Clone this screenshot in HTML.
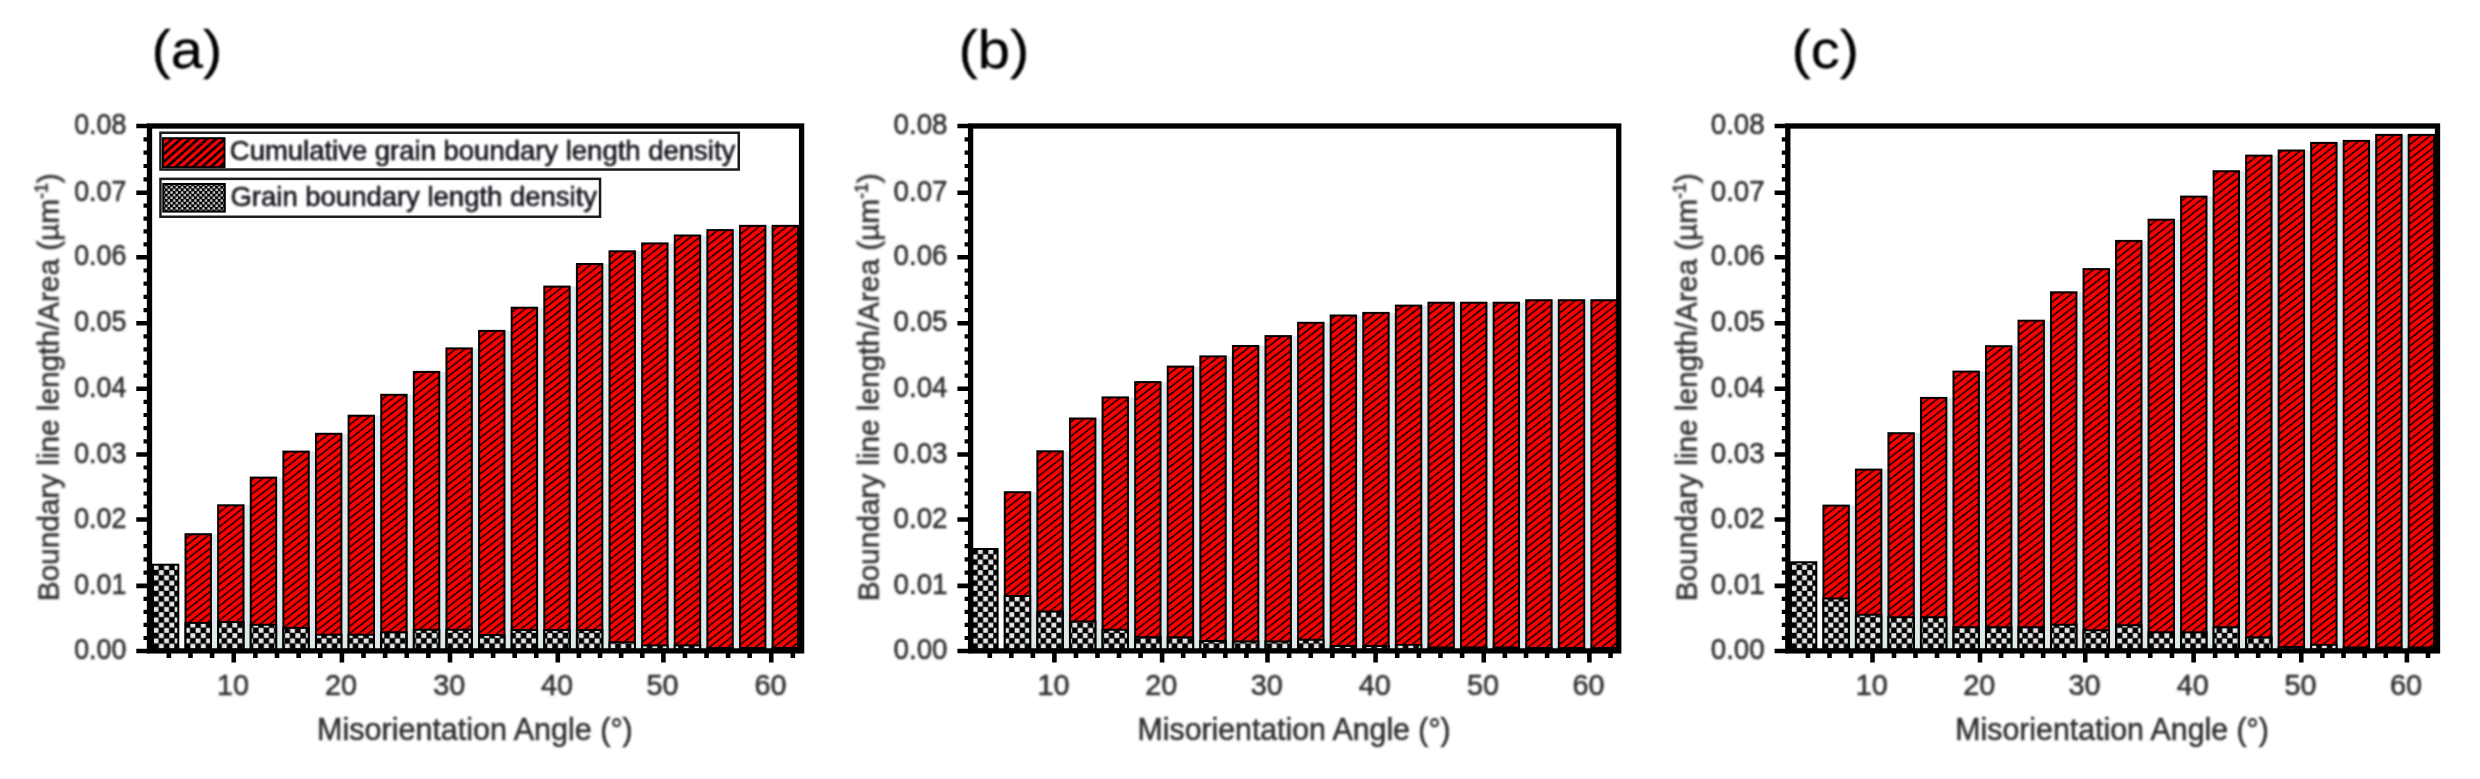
<!DOCTYPE html>
<html lang="en"><head><meta charset="utf-8"><title>Grain boundary length density</title>
<style>html,body{margin:0;padding:0;background:#fff}body{width:2480px;height:779px;overflow:hidden}svg{display:block}text{font-family:"Liberation Sans",Arial,sans-serif}</style>
</head><body>
<svg width="2480" height="779" viewBox="0 0 2480 779">
<defs>
<pattern id="hr" patternUnits="userSpaceOnUse" width="9.2" height="7.2">
<rect width="9.2" height="7.2" fill="#ff0000"/>
<path d="M-4.6 3.6 L4.6 -3.6 M0 7.2 L9.2 0 M4.6 10.8 L13.8 3.6" stroke="#000" stroke-width="1.5" stroke-linecap="square"/>
</pattern>
<pattern id="hg" patternUnits="userSpaceOnUse" width="10.5" height="10.5" x="1.2" y="3.0">
<rect width="10.5" height="10.5" fill="#000"/>
<rect x="0.225" y="0.225" width="4.8" height="4.8" fill="#e6e6e6"/><rect x="5.475" y="5.475" width="4.8" height="4.8" fill="#e6e6e6"/>
</pattern>
<pattern id="hl" patternUnits="userSpaceOnUse" width="8.8" height="7.8" x="2" y="1"><rect width="8.8" height="7.8" fill="#ff0000"/><path d="M-4.4 3.9L4.4 -3.9M0 7.8L8.8 0M4.4 11.7L13.2 3.9" stroke="#000" stroke-width="2.5" stroke-linecap="square"/></pattern>
<pattern id="hk" patternUnits="userSpaceOnUse" width="5.3" height="5.3" x="0.5" y="0.3"><rect width="5.3" height="5.3" fill="#000"/><rect x="0.3" y="0.3" width="2.3" height="2.3" fill="#d8d8d8"/><rect x="2.95" y="2.95" width="2.3" height="2.3" fill="#d8d8d8"/></pattern>
<filter id="bl" x="-5%" y="-20%" width="110%" height="140%"><feGaussianBlur stdDeviation="0.95"/></filter><filter id="b2"><feGaussianBlur stdDeviation="0.5"/></filter>
</defs>
<rect width="2480" height="779" fill="#fff"/>
<g>
<g>
<rect x="211.42" y="534.20" width="6.22" height="116.70" fill="#dfe8ea"/>
<rect x="244.03" y="505.30" width="6.22" height="145.60" fill="#dfe8ea"/>
<rect x="276.65" y="477.60" width="6.22" height="173.30" fill="#dfe8ea"/>
<rect x="309.26" y="451.60" width="6.22" height="199.30" fill="#dfe8ea"/>
<rect x="341.88" y="433.80" width="6.22" height="217.10" fill="#dfe8ea"/>
<rect x="374.49" y="415.70" width="6.22" height="235.20" fill="#dfe8ea"/>
<rect x="407.11" y="394.80" width="6.22" height="256.10" fill="#dfe8ea"/>
<rect x="439.73" y="371.90" width="6.22" height="279.00" fill="#dfe8ea"/>
<rect x="472.34" y="348.40" width="6.22" height="302.50" fill="#dfe8ea"/>
<rect x="504.96" y="330.90" width="6.22" height="320.00" fill="#dfe8ea"/>
<rect x="537.57" y="307.70" width="6.22" height="343.20" fill="#dfe8ea"/>
<rect x="570.19" y="286.60" width="6.22" height="364.30" fill="#dfe8ea"/>
<rect x="602.81" y="264.00" width="6.22" height="386.90" fill="#dfe8ea"/>
<rect x="635.42" y="251.30" width="6.22" height="399.60" fill="#dfe8ea"/>
<rect x="668.04" y="243.40" width="6.22" height="407.50" fill="#dfe8ea"/>
<rect x="700.65" y="235.50" width="6.22" height="415.40" fill="#dfe8ea"/>
<rect x="733.27" y="230.10" width="6.22" height="420.80" fill="#dfe8ea"/>
<rect x="765.88" y="225.85" width="6.22" height="425.05" fill="#dfe8ea"/>
<rect x="152.90" y="564.70" width="25.40" height="86.20" fill="url(#hg)" stroke="#000" stroke-width="2" filter="url(#b2)"/>
<rect x="185.52" y="534.20" width="25.40" height="116.70" fill="url(#hr)" stroke="#000" stroke-width="2"/>
<rect x="185.52" y="622.90" width="25.40" height="28.00" fill="url(#hg)" stroke="#000" stroke-width="2" filter="url(#b2)"/>
<rect x="218.13" y="505.30" width="25.40" height="145.60" fill="url(#hr)" stroke="#000" stroke-width="2"/>
<rect x="218.13" y="622.00" width="25.40" height="28.90" fill="url(#hg)" stroke="#000" stroke-width="2" filter="url(#b2)"/>
<rect x="250.75" y="477.60" width="25.40" height="173.30" fill="url(#hr)" stroke="#000" stroke-width="2"/>
<rect x="250.75" y="624.75" width="25.40" height="26.15" fill="url(#hg)" stroke="#000" stroke-width="2" filter="url(#b2)"/>
<rect x="283.36" y="451.60" width="25.40" height="199.30" fill="url(#hr)" stroke="#000" stroke-width="2"/>
<rect x="283.36" y="627.90" width="25.40" height="23.00" fill="url(#hg)" stroke="#000" stroke-width="2" filter="url(#b2)"/>
<rect x="315.98" y="433.80" width="25.40" height="217.10" fill="url(#hr)" stroke="#000" stroke-width="2"/>
<rect x="315.98" y="634.75" width="25.40" height="16.15" fill="url(#hg)" stroke="#000" stroke-width="2" filter="url(#b2)"/>
<rect x="348.59" y="415.70" width="25.40" height="235.20" fill="url(#hr)" stroke="#000" stroke-width="2"/>
<rect x="348.59" y="634.75" width="25.40" height="16.15" fill="url(#hg)" stroke="#000" stroke-width="2" filter="url(#b2)"/>
<rect x="381.21" y="394.80" width="25.40" height="256.10" fill="url(#hr)" stroke="#000" stroke-width="2"/>
<rect x="381.21" y="632.25" width="25.40" height="18.65" fill="url(#hg)" stroke="#000" stroke-width="2" filter="url(#b2)"/>
<rect x="413.83" y="371.90" width="25.40" height="279.00" fill="url(#hr)" stroke="#000" stroke-width="2"/>
<rect x="413.83" y="629.75" width="25.40" height="21.15" fill="url(#hg)" stroke="#000" stroke-width="2" filter="url(#b2)"/>
<rect x="446.44" y="348.40" width="25.40" height="302.50" fill="url(#hr)" stroke="#000" stroke-width="2"/>
<rect x="446.44" y="629.75" width="25.40" height="21.15" fill="url(#hg)" stroke="#000" stroke-width="2" filter="url(#b2)"/>
<rect x="479.06" y="330.90" width="25.40" height="320.00" fill="url(#hr)" stroke="#000" stroke-width="2"/>
<rect x="479.06" y="635.00" width="25.40" height="15.90" fill="url(#hg)" stroke="#000" stroke-width="2" filter="url(#b2)"/>
<rect x="511.67" y="307.70" width="25.40" height="343.20" fill="url(#hr)" stroke="#000" stroke-width="2"/>
<rect x="511.67" y="630.00" width="25.40" height="20.90" fill="url(#hg)" stroke="#000" stroke-width="2" filter="url(#b2)"/>
<rect x="544.29" y="286.60" width="25.40" height="364.30" fill="url(#hr)" stroke="#000" stroke-width="2"/>
<rect x="544.29" y="630.00" width="25.40" height="20.90" fill="url(#hg)" stroke="#000" stroke-width="2" filter="url(#b2)"/>
<rect x="576.91" y="264.00" width="25.40" height="386.90" fill="url(#hr)" stroke="#000" stroke-width="2"/>
<rect x="576.91" y="630.00" width="25.40" height="20.90" fill="url(#hg)" stroke="#000" stroke-width="2" filter="url(#b2)"/>
<rect x="609.52" y="251.30" width="25.40" height="399.60" fill="url(#hr)" stroke="#000" stroke-width="2"/>
<rect x="609.52" y="642.25" width="25.40" height="8.65" fill="url(#hg)" stroke="#000" stroke-width="2" filter="url(#b2)"/>
<rect x="642.14" y="243.40" width="25.40" height="407.50" fill="url(#hr)" stroke="#000" stroke-width="2"/>
<rect x="642.14" y="645.40" width="25.40" height="5.50" fill="url(#hg)" stroke="#000" stroke-width="2" filter="url(#b2)"/>
<rect x="674.75" y="235.50" width="25.40" height="415.40" fill="url(#hr)" stroke="#000" stroke-width="2"/>
<rect x="674.75" y="645.40" width="25.40" height="5.50" fill="url(#hg)" stroke="#000" stroke-width="2" filter="url(#b2)"/>
<rect x="707.37" y="230.10" width="25.40" height="420.80" fill="url(#hr)" stroke="#000" stroke-width="2"/>
<rect x="706.37" y="647.00" width="27.40" height="3.90" fill="#000"/>
<rect x="739.98" y="225.85" width="25.40" height="425.05" fill="url(#hr)" stroke="#000" stroke-width="2"/>
<rect x="738.98" y="647.00" width="27.40" height="3.90" fill="#000"/>
<rect x="772.60" y="225.85" width="25.40" height="425.05" fill="url(#hr)" stroke="#000" stroke-width="2"/>
<rect x="771.60" y="647.00" width="27.40" height="3.90" fill="#000"/>
<rect x="149.5" y="126" width="652.1" height="524.9" fill="none" stroke="#000" stroke-width="5.3"/>
<path d="M136.3 651.00H149.5M136.3 585.90H149.5M136.3 519.50H149.5M136.3 454.50H149.5M136.3 388.70H149.5M136.3 323.30H149.5M136.3 257.30H149.5M136.3 192.70H149.5M136.3 126.00H149.5" stroke="#000" stroke-width="4.6" fill="none"/>
<path d="M143.5 637.98H149.5M143.5 624.96H149.5M143.5 611.94H149.5M143.5 598.92H149.5M143.5 572.62H149.5M143.5 559.34H149.5M143.5 546.06H149.5M143.5 532.78H149.5M143.5 506.50H149.5M143.5 493.50H149.5M143.5 480.50H149.5M143.5 467.50H149.5M143.5 441.34H149.5M143.5 428.18H149.5M143.5 415.02H149.5M143.5 401.86H149.5M143.5 375.62H149.5M143.5 362.54H149.5M143.5 349.46H149.5M143.5 336.38H149.5M143.5 310.10H149.5M143.5 296.90H149.5M143.5 283.70H149.5M143.5 270.50H149.5M143.5 244.38H149.5M143.5 231.46H149.5M143.5 218.54H149.5M143.5 205.62H149.5M143.5 179.36H149.5M143.5 166.02H149.5M143.5 152.68H149.5M143.5 139.34H149.5" stroke="#000" stroke-width="4.2" fill="none"/>
<path d="M168.86 650.9V658M190.49 650.9V658M212.12 650.9V658M233.75 650.9V662.6M255.38 650.9V658M277.01 650.9V658M298.64 650.9V658M320.27 650.9V658M341.90 650.9V662.6M363.52 650.9V658M385.14 650.9V658M406.76 650.9V658M428.38 650.9V658M450.00 650.9V662.6M471.56 650.9V658M493.12 650.9V658M514.68 650.9V658M536.24 650.9V658M557.80 650.9V662.6M578.92 650.9V658M600.04 650.9V658M621.16 650.9V658M642.28 650.9V658M663.40 650.9V662.6M684.97 650.9V658M706.54 650.9V658M728.11 650.9V658M749.68 650.9V658M771.25 650.9V662.6M792.82 650.9V658" stroke="#000" stroke-width="4.6" fill="none"/>
<text transform="translate(126.40 659.00) scale(0.925 1)" font-size="29" text-anchor="end" fill="#303030" stroke="#303030" stroke-width="0.55" filter="url(#bl)">0.00</text>
<text transform="translate(126.40 593.90) scale(0.925 1)" font-size="29" text-anchor="end" fill="#303030" stroke="#303030" stroke-width="0.55" filter="url(#bl)">0.01</text>
<text transform="translate(126.40 527.50) scale(0.925 1)" font-size="29" text-anchor="end" fill="#303030" stroke="#303030" stroke-width="0.55" filter="url(#bl)">0.02</text>
<text transform="translate(126.40 462.50) scale(0.925 1)" font-size="29" text-anchor="end" fill="#303030" stroke="#303030" stroke-width="0.55" filter="url(#bl)">0.03</text>
<text transform="translate(126.40 396.70) scale(0.925 1)" font-size="29" text-anchor="end" fill="#303030" stroke="#303030" stroke-width="0.55" filter="url(#bl)">0.04</text>
<text transform="translate(126.40 331.30) scale(0.925 1)" font-size="29" text-anchor="end" fill="#303030" stroke="#303030" stroke-width="0.55" filter="url(#bl)">0.05</text>
<text transform="translate(126.40 265.30) scale(0.925 1)" font-size="29" text-anchor="end" fill="#303030" stroke="#303030" stroke-width="0.55" filter="url(#bl)">0.06</text>
<text transform="translate(126.40 200.70) scale(0.925 1)" font-size="29" text-anchor="end" fill="#303030" stroke="#303030" stroke-width="0.55" filter="url(#bl)">0.07</text>
<text transform="translate(126.40 134.00) scale(0.925 1)" font-size="29" text-anchor="end" fill="#303030" stroke="#303030" stroke-width="0.55" filter="url(#bl)">0.08</text>
<text transform="translate(232.95 694.80)" font-size="28.8" text-anchor="middle" fill="#303030" stroke="#303030" stroke-width="0.55" filter="url(#bl)">10</text>
<text transform="translate(341.10 694.80)" font-size="28.8" text-anchor="middle" fill="#303030" stroke="#303030" stroke-width="0.55" filter="url(#bl)">20</text>
<text transform="translate(449.20 694.80)" font-size="28.8" text-anchor="middle" fill="#303030" stroke="#303030" stroke-width="0.55" filter="url(#bl)">30</text>
<text transform="translate(557.00 694.80)" font-size="28.8" text-anchor="middle" fill="#303030" stroke="#303030" stroke-width="0.55" filter="url(#bl)">40</text>
<text transform="translate(662.60 694.80)" font-size="28.8" text-anchor="middle" fill="#303030" stroke="#303030" stroke-width="0.55" filter="url(#bl)">50</text>
<text transform="translate(770.45 694.80)" font-size="28.8" text-anchor="middle" fill="#303030" stroke="#303030" stroke-width="0.55" filter="url(#bl)">60</text>
<text transform="translate(474.95 740.40)" font-size="30.5" text-anchor="middle" fill="#303030" stroke="#303030" stroke-width="0.55" filter="url(#bl)">Misorientation Angle (°)</text>
<text transform="translate(58.60 387.20) rotate(-90) scale(0.9916 1)" font-size="30" text-anchor="middle" fill="#303030" stroke="#303030" stroke-width="0.55" filter="url(#bl)">Boundary line length/Area (µm<tspan font-size="18" dy="-11">-1</tspan><tspan dy="11">)</tspan></text>
</g>
<g>
<rect x="1030.69" y="492.20" width="6.19" height="158.70" fill="#dfe8ea"/>
<rect x="1063.28" y="451.30" width="6.19" height="199.60" fill="#dfe8ea"/>
<rect x="1095.87" y="418.50" width="6.19" height="232.40" fill="#dfe8ea"/>
<rect x="1128.46" y="397.40" width="6.19" height="253.50" fill="#dfe8ea"/>
<rect x="1161.05" y="382.10" width="6.19" height="268.80" fill="#dfe8ea"/>
<rect x="1193.64" y="366.60" width="6.19" height="284.30" fill="#dfe8ea"/>
<rect x="1226.23" y="356.40" width="6.19" height="294.50" fill="#dfe8ea"/>
<rect x="1258.82" y="346.00" width="6.19" height="304.90" fill="#dfe8ea"/>
<rect x="1291.41" y="336.10" width="6.19" height="314.80" fill="#dfe8ea"/>
<rect x="1323.99" y="322.80" width="6.19" height="328.10" fill="#dfe8ea"/>
<rect x="1356.58" y="315.50" width="6.19" height="335.40" fill="#dfe8ea"/>
<rect x="1389.17" y="312.90" width="6.19" height="338.00" fill="#dfe8ea"/>
<rect x="1421.76" y="305.60" width="6.19" height="345.30" fill="#dfe8ea"/>
<rect x="1454.35" y="302.70" width="6.19" height="348.20" fill="#dfe8ea"/>
<rect x="1486.94" y="302.70" width="6.19" height="348.20" fill="#dfe8ea"/>
<rect x="1519.53" y="302.70" width="6.19" height="348.20" fill="#dfe8ea"/>
<rect x="1552.12" y="300.20" width="6.19" height="350.70" fill="#dfe8ea"/>
<rect x="1584.71" y="300.20" width="6.19" height="350.70" fill="#dfe8ea"/>
<rect x="972.20" y="549.00" width="25.40" height="101.90" fill="url(#hg)" stroke="#000" stroke-width="2" filter="url(#b2)"/>
<rect x="1004.79" y="492.20" width="25.40" height="158.70" fill="url(#hr)" stroke="#000" stroke-width="2"/>
<rect x="1004.79" y="596.00" width="25.40" height="54.90" fill="url(#hg)" stroke="#000" stroke-width="2" filter="url(#b2)"/>
<rect x="1037.38" y="451.30" width="25.40" height="199.60" fill="url(#hr)" stroke="#000" stroke-width="2"/>
<rect x="1037.38" y="611.50" width="25.40" height="39.40" fill="url(#hg)" stroke="#000" stroke-width="2" filter="url(#b2)"/>
<rect x="1069.97" y="418.50" width="25.40" height="232.40" fill="url(#hr)" stroke="#000" stroke-width="2"/>
<rect x="1069.97" y="621.50" width="25.40" height="29.40" fill="url(#hg)" stroke="#000" stroke-width="2" filter="url(#b2)"/>
<rect x="1102.56" y="397.40" width="25.40" height="253.50" fill="url(#hr)" stroke="#000" stroke-width="2"/>
<rect x="1102.56" y="629.75" width="25.40" height="21.15" fill="url(#hg)" stroke="#000" stroke-width="2" filter="url(#b2)"/>
<rect x="1135.15" y="382.10" width="25.40" height="268.80" fill="url(#hr)" stroke="#000" stroke-width="2"/>
<rect x="1135.15" y="637.25" width="25.40" height="13.65" fill="url(#hg)" stroke="#000" stroke-width="2" filter="url(#b2)"/>
<rect x="1167.74" y="366.60" width="25.40" height="284.30" fill="url(#hr)" stroke="#000" stroke-width="2"/>
<rect x="1167.74" y="637.25" width="25.40" height="13.65" fill="url(#hg)" stroke="#000" stroke-width="2" filter="url(#b2)"/>
<rect x="1200.33" y="356.40" width="25.40" height="294.50" fill="url(#hr)" stroke="#000" stroke-width="2"/>
<rect x="1200.33" y="641.00" width="25.40" height="9.90" fill="url(#hg)" stroke="#000" stroke-width="2" filter="url(#b2)"/>
<rect x="1232.92" y="346.00" width="25.40" height="304.90" fill="url(#hr)" stroke="#000" stroke-width="2"/>
<rect x="1232.92" y="641.50" width="25.40" height="9.40" fill="url(#hg)" stroke="#000" stroke-width="2" filter="url(#b2)"/>
<rect x="1265.51" y="336.10" width="25.40" height="314.80" fill="url(#hr)" stroke="#000" stroke-width="2"/>
<rect x="1265.51" y="641.50" width="25.40" height="9.40" fill="url(#hg)" stroke="#000" stroke-width="2" filter="url(#b2)"/>
<rect x="1298.09" y="322.80" width="25.40" height="328.10" fill="url(#hr)" stroke="#000" stroke-width="2"/>
<rect x="1298.09" y="639.75" width="25.40" height="11.15" fill="url(#hg)" stroke="#000" stroke-width="2" filter="url(#b2)"/>
<rect x="1330.68" y="315.50" width="25.40" height="335.40" fill="url(#hr)" stroke="#000" stroke-width="2"/>
<rect x="1330.68" y="646.00" width="25.40" height="4.90" fill="url(#hg)" stroke="#000" stroke-width="2" filter="url(#b2)"/>
<rect x="1363.27" y="312.90" width="25.40" height="338.00" fill="url(#hr)" stroke="#000" stroke-width="2"/>
<rect x="1363.27" y="646.00" width="25.40" height="4.90" fill="url(#hg)" stroke="#000" stroke-width="2" filter="url(#b2)"/>
<rect x="1395.86" y="305.60" width="25.40" height="345.30" fill="url(#hr)" stroke="#000" stroke-width="2"/>
<rect x="1395.86" y="644.75" width="25.40" height="6.15" fill="url(#hg)" stroke="#000" stroke-width="2" filter="url(#b2)"/>
<rect x="1428.45" y="302.70" width="25.40" height="348.20" fill="url(#hr)" stroke="#000" stroke-width="2"/>
<rect x="1427.45" y="646.50" width="27.40" height="4.40" fill="#000"/>
<rect x="1461.04" y="302.70" width="25.40" height="348.20" fill="url(#hr)" stroke="#000" stroke-width="2"/>
<rect x="1460.04" y="646.50" width="27.40" height="4.40" fill="#000"/>
<rect x="1493.63" y="302.70" width="25.40" height="348.20" fill="url(#hr)" stroke="#000" stroke-width="2"/>
<rect x="1492.63" y="646.50" width="27.40" height="4.40" fill="#000"/>
<rect x="1526.22" y="300.20" width="25.40" height="350.70" fill="url(#hr)" stroke="#000" stroke-width="2"/>
<rect x="1525.22" y="647.00" width="27.40" height="3.90" fill="#000"/>
<rect x="1558.81" y="300.20" width="25.40" height="350.70" fill="url(#hr)" stroke="#000" stroke-width="2"/>
<rect x="1557.81" y="647.00" width="27.40" height="3.90" fill="#000"/>
<rect x="1591.40" y="300.20" width="25.40" height="350.70" fill="url(#hr)" stroke="#000" stroke-width="2"/>
<rect x="1590.40" y="647.00" width="27.40" height="3.90" fill="#000"/>
<rect x="970.6" y="126" width="648.15" height="524.9" fill="none" stroke="#000" stroke-width="5.3"/>
<path d="M957.4 651.00H970.6M957.4 585.90H970.6M957.4 519.50H970.6M957.4 454.50H970.6M957.4 388.70H970.6M957.4 323.30H970.6M957.4 257.30H970.6M957.4 192.70H970.6M957.4 126.00H970.6" stroke="#000" stroke-width="4.6" fill="none"/>
<path d="M964.6 637.98H970.6M964.6 624.96H970.6M964.6 611.94H970.6M964.6 598.92H970.6M964.6 572.62H970.6M964.6 559.34H970.6M964.6 546.06H970.6M964.6 532.78H970.6M964.6 506.50H970.6M964.6 493.50H970.6M964.6 480.50H970.6M964.6 467.50H970.6M964.6 441.34H970.6M964.6 428.18H970.6M964.6 415.02H970.6M964.6 401.86H970.6M964.6 375.62H970.6M964.6 362.54H970.6M964.6 349.46H970.6M964.6 336.38H970.6M964.6 310.10H970.6M964.6 296.90H970.6M964.6 283.70H970.6M964.6 270.50H970.6M964.6 244.38H970.6M964.6 231.46H970.6M964.6 218.54H970.6M964.6 205.62H970.6M964.6 179.36H970.6M964.6 166.02H970.6M964.6 152.68H970.6M964.6 139.34H970.6" stroke="#000" stroke-width="4.2" fill="none"/>
<path d="M989.78 650.9V658M1011.32 650.9V658M1032.86 650.9V658M1054.40 650.9V662.6M1075.94 650.9V658M1097.48 650.9V658M1119.02 650.9V658M1140.56 650.9V658M1162.10 650.9V662.6M1183.18 650.9V658M1204.26 650.9V658M1225.34 650.9V658M1246.42 650.9V658M1267.50 650.9V662.6M1289.12 650.9V658M1310.74 650.9V658M1332.36 650.9V658M1353.98 650.9V658M1375.60 650.9V662.6M1397.23 650.9V658M1418.86 650.9V658M1440.49 650.9V658M1462.12 650.9V658M1483.75 650.9V662.6M1504.88 650.9V658M1526.01 650.9V658M1547.14 650.9V658M1568.27 650.9V658M1589.40 650.9V662.6M1610.53 650.9V658" stroke="#000" stroke-width="4.6" fill="none"/>
<text transform="translate(947.50 659.00) scale(0.97 1)" font-size="28.6" text-anchor="end" fill="#303030" stroke="#303030" stroke-width="0.55" filter="url(#bl)">0.00</text>
<text transform="translate(947.50 593.90) scale(0.97 1)" font-size="28.6" text-anchor="end" fill="#303030" stroke="#303030" stroke-width="0.55" filter="url(#bl)">0.01</text>
<text transform="translate(947.50 527.50) scale(0.97 1)" font-size="28.6" text-anchor="end" fill="#303030" stroke="#303030" stroke-width="0.55" filter="url(#bl)">0.02</text>
<text transform="translate(947.50 462.50) scale(0.97 1)" font-size="28.6" text-anchor="end" fill="#303030" stroke="#303030" stroke-width="0.55" filter="url(#bl)">0.03</text>
<text transform="translate(947.50 396.70) scale(0.97 1)" font-size="28.6" text-anchor="end" fill="#303030" stroke="#303030" stroke-width="0.55" filter="url(#bl)">0.04</text>
<text transform="translate(947.50 331.30) scale(0.97 1)" font-size="28.6" text-anchor="end" fill="#303030" stroke="#303030" stroke-width="0.55" filter="url(#bl)">0.05</text>
<text transform="translate(947.50 265.30) scale(0.97 1)" font-size="28.6" text-anchor="end" fill="#303030" stroke="#303030" stroke-width="0.55" filter="url(#bl)">0.06</text>
<text transform="translate(947.50 200.70) scale(0.97 1)" font-size="28.6" text-anchor="end" fill="#303030" stroke="#303030" stroke-width="0.55" filter="url(#bl)">0.07</text>
<text transform="translate(947.50 134.00) scale(0.97 1)" font-size="28.6" text-anchor="end" fill="#303030" stroke="#303030" stroke-width="0.55" filter="url(#bl)">0.08</text>
<text transform="translate(1053.60 694.80)" font-size="28.8" text-anchor="middle" fill="#303030" stroke="#303030" stroke-width="0.55" filter="url(#bl)">10</text>
<text transform="translate(1161.30 694.80)" font-size="28.8" text-anchor="middle" fill="#303030" stroke="#303030" stroke-width="0.55" filter="url(#bl)">20</text>
<text transform="translate(1266.70 694.80)" font-size="28.8" text-anchor="middle" fill="#303030" stroke="#303030" stroke-width="0.55" filter="url(#bl)">30</text>
<text transform="translate(1374.80 694.80)" font-size="28.8" text-anchor="middle" fill="#303030" stroke="#303030" stroke-width="0.55" filter="url(#bl)">40</text>
<text transform="translate(1482.95 694.80)" font-size="28.8" text-anchor="middle" fill="#303030" stroke="#303030" stroke-width="0.55" filter="url(#bl)">50</text>
<text transform="translate(1588.60 694.80)" font-size="28.8" text-anchor="middle" fill="#303030" stroke="#303030" stroke-width="0.55" filter="url(#bl)">60</text>
<text transform="translate(1294.08 740.40) scale(0.992 1)" font-size="30.5" text-anchor="middle" fill="#303030" stroke="#303030" stroke-width="0.55" filter="url(#bl)">Misorientation Angle (°)</text>
<text transform="translate(878.70 387.20) rotate(-90) scale(0.9916 1)" font-size="30" text-anchor="middle" fill="#303030" stroke="#303030" stroke-width="0.55" filter="url(#bl)">Boundary line length/Area (µm<tspan font-size="18" dy="-11">-1</tspan><tspan dy="11">)</tspan></text>
</g>
<g>
<rect x="1849.32" y="505.60" width="6.12" height="145.30" fill="#dfe8ea"/>
<rect x="1881.83" y="469.60" width="6.12" height="181.30" fill="#dfe8ea"/>
<rect x="1914.35" y="433.20" width="6.12" height="217.70" fill="#dfe8ea"/>
<rect x="1946.86" y="397.90" width="6.12" height="253.00" fill="#dfe8ea"/>
<rect x="1979.38" y="371.60" width="6.12" height="279.30" fill="#dfe8ea"/>
<rect x="2011.89" y="346.20" width="6.12" height="304.70" fill="#dfe8ea"/>
<rect x="2044.41" y="320.70" width="6.12" height="330.20" fill="#dfe8ea"/>
<rect x="2076.93" y="292.30" width="6.12" height="358.60" fill="#dfe8ea"/>
<rect x="2109.44" y="269.10" width="6.12" height="381.80" fill="#dfe8ea"/>
<rect x="2141.96" y="240.90" width="6.12" height="410.00" fill="#dfe8ea"/>
<rect x="2174.47" y="219.70" width="6.12" height="431.20" fill="#dfe8ea"/>
<rect x="2206.99" y="196.60" width="6.12" height="454.30" fill="#dfe8ea"/>
<rect x="2239.51" y="171.20" width="6.12" height="479.70" fill="#dfe8ea"/>
<rect x="2272.02" y="155.60" width="6.12" height="495.30" fill="#dfe8ea"/>
<rect x="2304.54" y="150.50" width="6.12" height="500.40" fill="#dfe8ea"/>
<rect x="2337.05" y="142.90" width="6.12" height="508.00" fill="#dfe8ea"/>
<rect x="2369.57" y="140.90" width="6.12" height="510.00" fill="#dfe8ea"/>
<rect x="2402.08" y="134.90" width="6.12" height="516.00" fill="#dfe8ea"/>
<rect x="1790.90" y="562.25" width="25.40" height="88.65" fill="url(#hg)" stroke="#000" stroke-width="2" filter="url(#b2)"/>
<rect x="1823.42" y="505.60" width="25.40" height="145.30" fill="url(#hr)" stroke="#000" stroke-width="2"/>
<rect x="1823.42" y="598.50" width="25.40" height="52.40" fill="url(#hg)" stroke="#000" stroke-width="2" filter="url(#b2)"/>
<rect x="1855.93" y="469.60" width="25.40" height="181.30" fill="url(#hr)" stroke="#000" stroke-width="2"/>
<rect x="1855.93" y="614.75" width="25.40" height="36.15" fill="url(#hg)" stroke="#000" stroke-width="2" filter="url(#b2)"/>
<rect x="1888.45" y="433.20" width="25.40" height="217.70" fill="url(#hr)" stroke="#000" stroke-width="2"/>
<rect x="1888.45" y="617.25" width="25.40" height="33.65" fill="url(#hg)" stroke="#000" stroke-width="2" filter="url(#b2)"/>
<rect x="1920.96" y="397.90" width="25.40" height="253.00" fill="url(#hr)" stroke="#000" stroke-width="2"/>
<rect x="1920.96" y="617.25" width="25.40" height="33.65" fill="url(#hg)" stroke="#000" stroke-width="2" filter="url(#b2)"/>
<rect x="1953.48" y="371.60" width="25.40" height="279.30" fill="url(#hr)" stroke="#000" stroke-width="2"/>
<rect x="1953.48" y="627.25" width="25.40" height="23.65" fill="url(#hg)" stroke="#000" stroke-width="2" filter="url(#b2)"/>
<rect x="1985.99" y="346.20" width="25.40" height="304.70" fill="url(#hr)" stroke="#000" stroke-width="2"/>
<rect x="1985.99" y="627.25" width="25.40" height="23.65" fill="url(#hg)" stroke="#000" stroke-width="2" filter="url(#b2)"/>
<rect x="2018.51" y="320.70" width="25.40" height="330.20" fill="url(#hr)" stroke="#000" stroke-width="2"/>
<rect x="2018.51" y="627.25" width="25.40" height="23.65" fill="url(#hg)" stroke="#000" stroke-width="2" filter="url(#b2)"/>
<rect x="2051.03" y="292.30" width="25.40" height="358.60" fill="url(#hr)" stroke="#000" stroke-width="2"/>
<rect x="2051.03" y="624.75" width="25.40" height="26.15" fill="url(#hg)" stroke="#000" stroke-width="2" filter="url(#b2)"/>
<rect x="2083.54" y="269.10" width="25.40" height="381.80" fill="url(#hr)" stroke="#000" stroke-width="2"/>
<rect x="2083.54" y="630.25" width="25.40" height="20.65" fill="url(#hg)" stroke="#000" stroke-width="2" filter="url(#b2)"/>
<rect x="2116.06" y="240.90" width="25.40" height="410.00" fill="url(#hr)" stroke="#000" stroke-width="2"/>
<rect x="2116.06" y="625.25" width="25.40" height="25.65" fill="url(#hg)" stroke="#000" stroke-width="2" filter="url(#b2)"/>
<rect x="2148.57" y="219.70" width="25.40" height="431.20" fill="url(#hr)" stroke="#000" stroke-width="2"/>
<rect x="2148.57" y="632.25" width="25.40" height="18.65" fill="url(#hg)" stroke="#000" stroke-width="2" filter="url(#b2)"/>
<rect x="2181.09" y="196.60" width="25.40" height="454.30" fill="url(#hr)" stroke="#000" stroke-width="2"/>
<rect x="2181.09" y="632.25" width="25.40" height="18.65" fill="url(#hg)" stroke="#000" stroke-width="2" filter="url(#b2)"/>
<rect x="2213.61" y="171.20" width="25.40" height="479.70" fill="url(#hr)" stroke="#000" stroke-width="2"/>
<rect x="2213.61" y="627.25" width="25.40" height="23.65" fill="url(#hg)" stroke="#000" stroke-width="2" filter="url(#b2)"/>
<rect x="2246.12" y="155.60" width="25.40" height="495.30" fill="url(#hr)" stroke="#000" stroke-width="2"/>
<rect x="2246.12" y="637.25" width="25.40" height="13.65" fill="url(#hg)" stroke="#000" stroke-width="2" filter="url(#b2)"/>
<rect x="2278.64" y="150.50" width="25.40" height="500.40" fill="url(#hr)" stroke="#000" stroke-width="2"/>
<rect x="2278.64" y="647.00" width="25.40" height="3.90" fill="url(#hg)" stroke="#000" stroke-width="2" filter="url(#b2)"/>
<rect x="2311.15" y="142.90" width="25.40" height="508.00" fill="url(#hr)" stroke="#000" stroke-width="2"/>
<rect x="2311.15" y="644.75" width="25.40" height="6.15" fill="url(#hg)" stroke="#000" stroke-width="2" filter="url(#b2)"/>
<rect x="2343.67" y="140.90" width="25.40" height="510.00" fill="url(#hr)" stroke="#000" stroke-width="2"/>
<rect x="2342.67" y="646.50" width="27.40" height="4.40" fill="#000"/>
<rect x="2376.18" y="134.90" width="25.40" height="516.00" fill="url(#hr)" stroke="#000" stroke-width="2"/>
<rect x="2375.18" y="646.50" width="27.40" height="4.40" fill="#000"/>
<rect x="2408.70" y="134.90" width="25.40" height="516.00" fill="url(#hr)" stroke="#000" stroke-width="2"/>
<rect x="2407.70" y="646.50" width="27.40" height="4.40" fill="#000"/>
<rect x="1787.8" y="126" width="649.7" height="524.9" fill="none" stroke="#000" stroke-width="5.3"/>
<path d="M1774.6 651.00H1787.8M1774.6 585.90H1787.8M1774.6 519.50H1787.8M1774.6 454.50H1787.8M1774.6 388.70H1787.8M1774.6 323.30H1787.8M1774.6 257.30H1787.8M1774.6 192.70H1787.8M1774.6 126.00H1787.8" stroke="#000" stroke-width="4.6" fill="none"/>
<path d="M1781.8 637.98H1787.8M1781.8 624.96H1787.8M1781.8 611.94H1787.8M1781.8 598.92H1787.8M1781.8 572.62H1787.8M1781.8 559.34H1787.8M1781.8 546.06H1787.8M1781.8 532.78H1787.8M1781.8 506.50H1787.8M1781.8 493.50H1787.8M1781.8 480.50H1787.8M1781.8 467.50H1787.8M1781.8 441.34H1787.8M1781.8 428.18H1787.8M1781.8 415.02H1787.8M1781.8 401.86H1787.8M1781.8 375.62H1787.8M1781.8 362.54H1787.8M1781.8 349.46H1787.8M1781.8 336.38H1787.8M1781.8 310.10H1787.8M1781.8 296.90H1787.8M1781.8 283.70H1787.8M1781.8 270.50H1787.8M1781.8 244.38H1787.8M1781.8 231.46H1787.8M1781.8 218.54H1787.8M1781.8 205.62H1787.8M1781.8 179.36H1787.8M1781.8 166.02H1787.8M1781.8 152.68H1787.8M1781.8 139.34H1787.8" stroke="#000" stroke-width="4.2" fill="none"/>
<path d="M1808.00 650.9V658M1829.50 650.9V658M1851.00 650.9V658M1872.50 650.9V662.6M1894.00 650.9V658M1915.50 650.9V658M1937.00 650.9V658M1958.50 650.9V658M1980.00 650.9V662.6M2001.05 650.9V658M2022.10 650.9V658M2043.15 650.9V658M2064.20 650.9V658M2085.25 650.9V662.6M2106.92 650.9V658M2128.59 650.9V658M2150.26 650.9V658M2171.93 650.9V658M2193.60 650.9V662.6M2215.13 650.9V658M2236.66 650.9V658M2258.19 650.9V658M2279.72 650.9V658M2301.25 650.9V662.6M2322.38 650.9V658M2343.51 650.9V658M2364.64 650.9V658M2385.77 650.9V658M2406.90 650.9V662.6M2428.03 650.9V658" stroke="#000" stroke-width="4.6" fill="none"/>
<text transform="translate(1764.70 659.00) scale(0.97 1)" font-size="28.6" text-anchor="end" fill="#303030" stroke="#303030" stroke-width="0.55" filter="url(#bl)">0.00</text>
<text transform="translate(1764.70 593.90) scale(0.97 1)" font-size="28.6" text-anchor="end" fill="#303030" stroke="#303030" stroke-width="0.55" filter="url(#bl)">0.01</text>
<text transform="translate(1764.70 527.50) scale(0.97 1)" font-size="28.6" text-anchor="end" fill="#303030" stroke="#303030" stroke-width="0.55" filter="url(#bl)">0.02</text>
<text transform="translate(1764.70 462.50) scale(0.97 1)" font-size="28.6" text-anchor="end" fill="#303030" stroke="#303030" stroke-width="0.55" filter="url(#bl)">0.03</text>
<text transform="translate(1764.70 396.70) scale(0.97 1)" font-size="28.6" text-anchor="end" fill="#303030" stroke="#303030" stroke-width="0.55" filter="url(#bl)">0.04</text>
<text transform="translate(1764.70 331.30) scale(0.97 1)" font-size="28.6" text-anchor="end" fill="#303030" stroke="#303030" stroke-width="0.55" filter="url(#bl)">0.05</text>
<text transform="translate(1764.70 265.30) scale(0.97 1)" font-size="28.6" text-anchor="end" fill="#303030" stroke="#303030" stroke-width="0.55" filter="url(#bl)">0.06</text>
<text transform="translate(1764.70 200.70) scale(0.97 1)" font-size="28.6" text-anchor="end" fill="#303030" stroke="#303030" stroke-width="0.55" filter="url(#bl)">0.07</text>
<text transform="translate(1764.70 134.00) scale(0.97 1)" font-size="28.6" text-anchor="end" fill="#303030" stroke="#303030" stroke-width="0.55" filter="url(#bl)">0.08</text>
<text transform="translate(1871.70 694.80)" font-size="28.8" text-anchor="middle" fill="#303030" stroke="#303030" stroke-width="0.55" filter="url(#bl)">10</text>
<text transform="translate(1979.20 694.80)" font-size="28.8" text-anchor="middle" fill="#303030" stroke="#303030" stroke-width="0.55" filter="url(#bl)">20</text>
<text transform="translate(2084.45 694.80)" font-size="28.8" text-anchor="middle" fill="#303030" stroke="#303030" stroke-width="0.55" filter="url(#bl)">30</text>
<text transform="translate(2192.80 694.80)" font-size="28.8" text-anchor="middle" fill="#303030" stroke="#303030" stroke-width="0.55" filter="url(#bl)">40</text>
<text transform="translate(2300.45 694.80)" font-size="28.8" text-anchor="middle" fill="#303030" stroke="#303030" stroke-width="0.55" filter="url(#bl)">50</text>
<text transform="translate(2406.10 694.80)" font-size="28.8" text-anchor="middle" fill="#303030" stroke="#303030" stroke-width="0.55" filter="url(#bl)">60</text>
<text transform="translate(2112.05 740.40) scale(0.994 1)" font-size="30.5" text-anchor="middle" fill="#303030" stroke="#303030" stroke-width="0.55" filter="url(#bl)">Misorientation Angle (°)</text>
<text transform="translate(1696.70 387.20) rotate(-90) scale(0.9916 1)" font-size="30" text-anchor="middle" fill="#303030" stroke="#303030" stroke-width="0.55" filter="url(#bl)">Boundary line length/Area (µm<tspan font-size="18" dy="-11">-1</tspan><tspan dy="11">)</tspan></text>
</g>
<text transform="translate(151.50 67.80) scale(1.09 1)" font-size="53.2" text-anchor="start" fill="#000" stroke="#000" stroke-width="0.3" filter="url(#bl)">(a)</text>
<text transform="translate(958.50 67.80) scale(1.09 1)" font-size="53.2" text-anchor="start" fill="#000" stroke="#000" stroke-width="0.3" filter="url(#bl)">(b)</text>
<text transform="translate(1791.50 67.80) scale(1.09 1)" font-size="53.2" text-anchor="start" fill="#000" stroke="#000" stroke-width="0.3" filter="url(#bl)">(c)</text>
<rect x="160.45" y="132.75" width="578.3" height="36.8" fill="#fff" stroke="#1c1c1c" stroke-width="2.5"/>
<rect x="163" y="138.2" width="61.5" height="29" fill="url(#hl)" stroke="#000" stroke-width="2"/>
<text transform="translate(229.80 159.50) scale(1.007 1)" font-size="27.3" text-anchor="start" fill="#0c0c18" stroke="#0c0c18" stroke-width="0.5" filter="url(#bl)">Cumulative grain boundary length density</text>
<rect x="160.45" y="178.85" width="439.6" height="37.9" fill="#fff" stroke="#1c1c1c" stroke-width="2.5"/>
<rect x="163.3" y="184" width="61.5" height="27.6" fill="url(#hk)" stroke="#000" stroke-width="2"/>
<text transform="translate(230.50 206.20) scale(1.007 1)" font-size="27.3" text-anchor="start" fill="#0c0c18" stroke="#0c0c18" stroke-width="0.5" filter="url(#bl)">Grain boundary length density</text>
</g>
</svg>
</body></html>
